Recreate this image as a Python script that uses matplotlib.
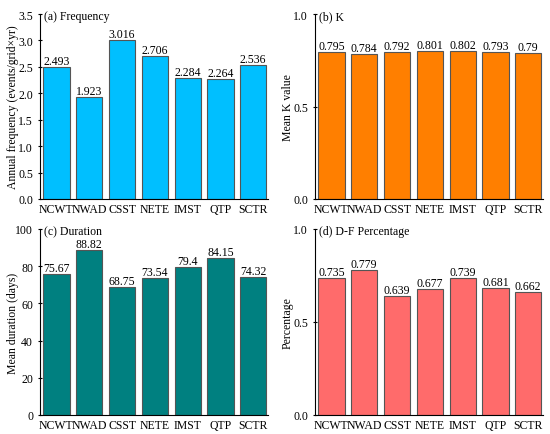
import matplotlib
matplotlib.use("Agg")
import matplotlib.pyplot as plt

plt.rcParams['font.family'] = ['Liberation Serif', 'DejaVu Serif']
plt.rcParams['font.size'] = 8

regions = ['NCWT', 'NWAD', 'CSST', 'NETE', 'IMST', 'QTP', 'SCTR']
frequency = [2.493, 1.923, 3.016, 2.706, 2.284, 2.264, 2.536]
k_value = [0.795, 0.784, 0.792, 0.801, 0.802, 0.793, 0.79]
duration = [75.67, 88.82, 68.75, 73.54, 79.4, 84.15, 74.32]
df_pct = [0.735, 0.779, 0.639, 0.677, 0.739, 0.681, 0.662]

fig = plt.figure(figsize=(5.5, 4.35), dpi=100)

W, H = 550, 435
# axes boxes in pixels (left, top, right, bottom) and y-label right edge
boxes = [(40, 15, 268, 200, 19), (315, 15, 543, 200, 294),
         (40, 230, 268, 416, 19), (315, 230, 543, 416, 294)]

panels = [
    (frequency, '#00BFFF', '(a) Frequency', 'Annual frequency (events/grid\u00d7yr)',
     (0, 3.5), [0, 0.5, 1.0, 1.5, 2.0, 2.5, 3.0, 3.5], '{:.1f}'),
    (k_value, '#FF7F00', '(b) K', 'Mean K value',
     (0, 1.0), [0, 0.5, 1.0], '{:.1f}'),
    (duration, '#008080', '(c) Duration', 'Mean duration (days)',
     (0, 100), [0, 20, 40, 60, 80, 100], '{:.0f}'),
    (df_pct, '#FF6B6B', '(d) D-F Percentage', 'Percentage',
     (0, 1.0), [0, 0.5, 1.0], '{:.1f}'),
]

for (l, t, r, b, lx), (vals, color, title, ylabel, ylim, yticks, fmt) in zip(boxes, panels):
    ax = fig.add_axes([l / W, 1 - b / H, (r - l) / W, (b - t) / H])
    x = range(len(regions))
    ax.bar(x, vals, width=0.8, color=color, edgecolor='#555555', linewidth=0.8)
    for xi, v in zip(x, vals):
        ax.text(xi, v, str(v), ha='center', va='bottom', fontsize=8.5)
    ax.set_xlim(-0.5, 6.45)
    ax.set_ylim(*ylim)
    ax.set_yticks(yticks)
    ax.set_yticklabels([fmt.format(v) for v in yticks])
    ax.set_xticks(list(x))
    ax.set_xticklabels(regions, fontsize=8.5)
    ax.tick_params(axis='x', length=0, pad=3)
    ax.tick_params(axis='y', length=3, direction='inout', width=0.8, labelsize=8.5)
    ax.set_ylabel(ylabel, fontsize=8.5)
    ax.yaxis.set_label_coords((lx - l) / (r - l), 0.5)
    ax.spines['top'].set_visible(False)
    ax.spines['right'].set_visible(False)
    ax.spines['left'].set_linewidth(0.8)
    ax.spines['bottom'].set_linewidth(0.8)
    ax.text(0.018, 1.02, title, transform=ax.transAxes, ha='left', va='top', fontsize=8.5)

fig.savefig('out.png', dpi=100)
